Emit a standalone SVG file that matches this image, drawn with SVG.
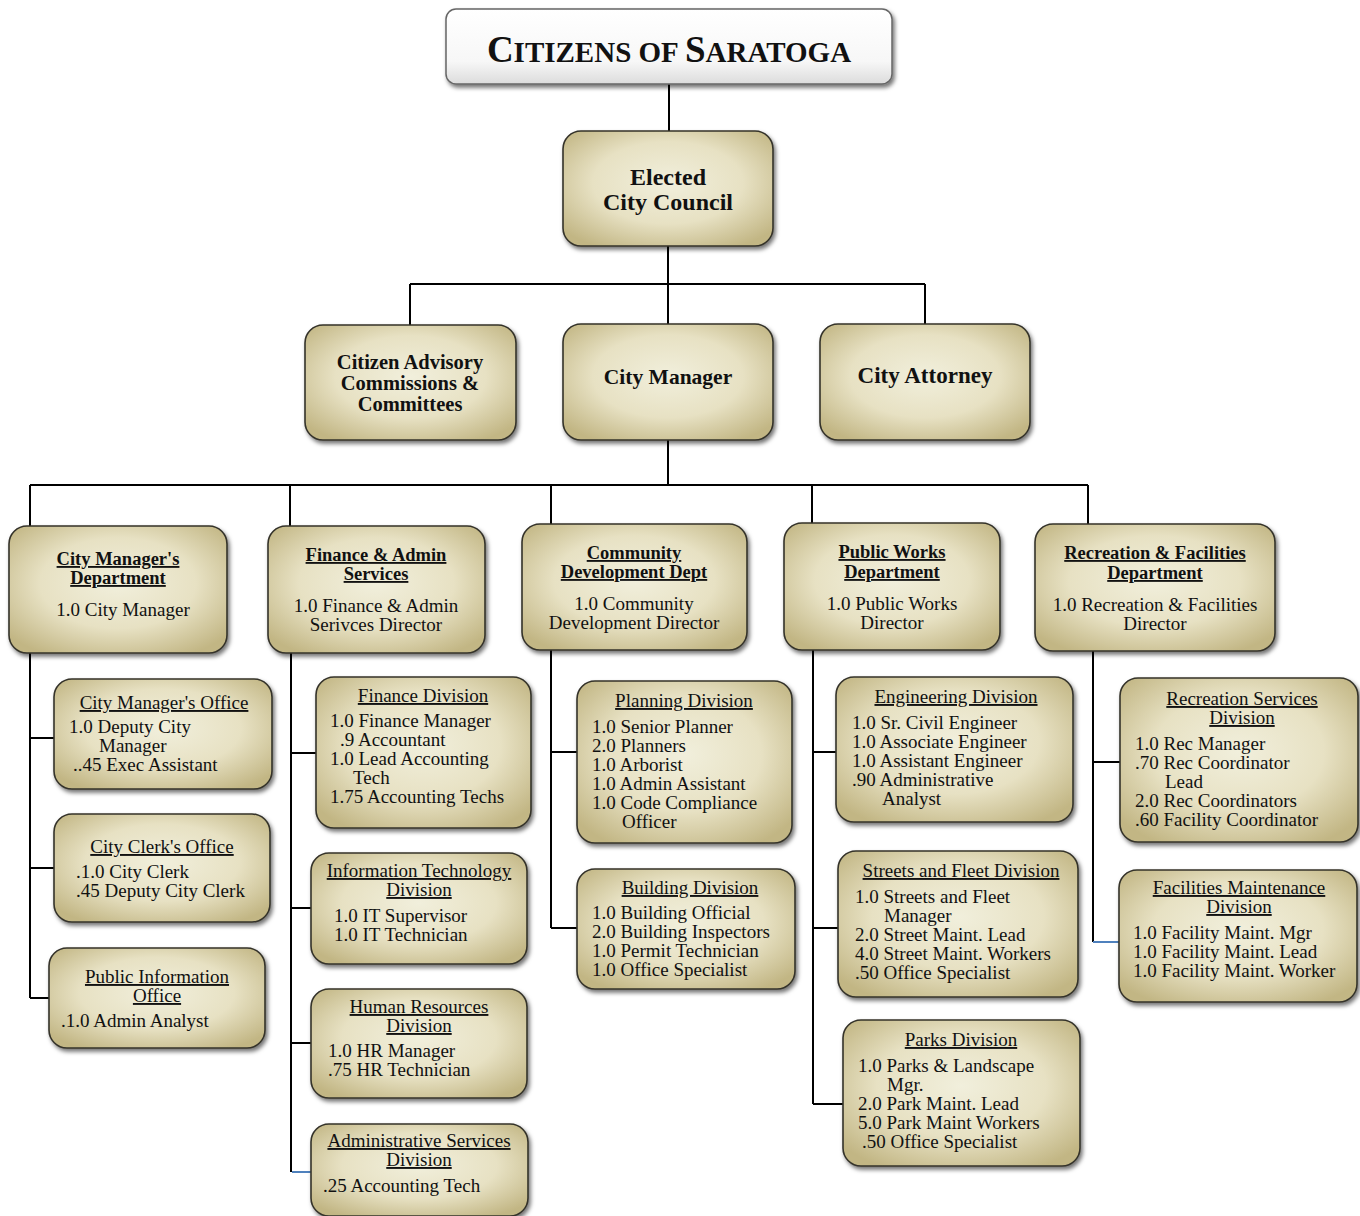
<svg xmlns="http://www.w3.org/2000/svg" width="1360" height="1216" viewBox="0 0 1360 1216">
<defs>
<radialGradient id="g" cx="50%" cy="45%" r="65%">
<stop offset="0%" stop-color="#f1efdc"/>
<stop offset="55%" stop-color="#e7e1c3"/>
<stop offset="100%" stop-color="#c2b684"/>
</radialGradient>
<linearGradient id="gw" x1="0" y1="0" x2="0" y2="1">
<stop offset="0%" stop-color="#ffffff"/>
<stop offset="70%" stop-color="#f7f7f7"/>
<stop offset="100%" stop-color="#dcdcdc"/>
</linearGradient>
<filter id="sh" x="-10%" y="-10%" width="125%" height="130%">
<feDropShadow dx="2" dy="3" stdDeviation="2" flood-color="#000" flood-opacity="0.55"/>
</filter>
<style>
.box{fill:url(#g);stroke:#34332a;stroke-width:1.6;filter:url(#sh)}
.tbox{fill:url(#gw);stroke:#666;stroke-width:1.5;filter:url(#sh)}
text{font-family:"Liberation Serif","Times New Roman",serif;fill:#111;font-size:19px}
.c{text-anchor:middle}
.h{font-weight:bold;text-decoration:underline;font-size:18.5px}
.u{text-decoration:underline}
.b{font-weight:bold}
.b24{font-weight:bold;font-size:24px}
.b21{font-weight:bold;font-size:20.5px}
.b22{font-weight:bold;font-size:21.5px}
.b23{font-weight:bold;font-size:23px}
.ln{stroke:#000;stroke-width:2;fill:none}
.bl{stroke:#4f81bd;stroke-width:2;fill:none}
</style>
</defs>

<g id="connectors">
<path class="ln" d="M669 84V131M668 246V284M410 284H925M410 284V325M925 284V324M668 284V324M668 440V485M30 485H1088M30 485V526M290 485V526M551 485V524M812 485V523M1088 485V524"/>
<path class="ln" d="M30 653V998M30 738H54M30 868H54M30 998H49"/>
<path class="ln" d="M291 653V1172M291 753H316M291 908H311M291 1043H311"/>
<path class="bl" d="M292 1172H311"/>
<path class="ln" d="M551 650V928M551 752H577M551 928H577"/>
<path class="ln" d="M813 650V1104M813 752H836M813 928H838M813 1104H843"/>
<path class="ln" d="M1093 651V942M1093 762H1120"/>
<path class="bl" d="M1093 942H1119"/>
</g>

<g id="citizens">
<rect class="tbox" x="446" y="9" width="446" height="75" rx="10"/>
<text class="c b" x="669" y="62"><tspan style="font-size:37px">C</tspan><tspan style="font-size:29px">ITIZENS OF </tspan><tspan style="font-size:37px">S</tspan><tspan style="font-size:29px">ARATOGA</tspan></text>
</g>

<g id="council">
<rect class="box" x="563" y="131" width="210" height="115" rx="18"/>
<text class="c b24" x="668" y="185">Elected</text>
<text class="c b24" x="668" y="210">City Council</text>
</g>

<g id="advisory">
<rect class="box" x="305" y="325" width="211" height="115" rx="18"/>
<text class="c b21" x="410" y="369">Citizen Advisory</text>
<text class="c b21" x="410" y="390">Commissions &amp;</text>
<text class="c b21" x="410" y="411">Committees</text>
</g>

<g id="citymanager">
<rect class="box" x="563" y="324" width="210" height="116" rx="18"/>
<text class="c b22" x="668" y="384">City Manager</text>
</g>

<g id="attorney">
<rect class="box" x="820" y="324" width="210" height="116" rx="18"/>
<text class="c b23" x="925" y="383">City Attorney</text>
</g>

<g id="dept-cm">
<rect class="box" x="9" y="526" width="218" height="127" rx="18"/>
<text class="c h" x="118" y="565">City Manager's</text>
<text class="c h" x="118" y="584">Department</text>
<text class="c" x="123" y="616">1.0 City Manager</text>
</g>

<g id="dept-finance">
<rect class="box" x="268" y="526" width="217" height="127" rx="18"/>
<text class="c h" x="376" y="561">Finance &amp; Admin</text>
<text class="c h" x="376" y="580">Services</text>
<text class="c" x="376" y="612">1.0 Finance &amp; Admin</text>
<text class="c" x="376" y="631">Serivces Director</text>
</g>

<g id="dept-cd">
<rect class="box" x="522" y="524" width="225" height="126" rx="18"/>
<text class="c h" x="634" y="559">Community</text>
<text class="c h" x="634" y="578">Development Dept</text>
<text class="c" x="634" y="610">1.0 Community</text>
<text class="c" x="634" y="629">Development Director</text>
</g>

<g id="dept-pw">
<rect class="box" x="784" y="523" width="216" height="127" rx="18"/>
<text class="c h" x="892" y="558">Public Works</text>
<text class="c h" x="892" y="578">Department</text>
<text class="c" x="892" y="610">1.0 Public Works</text>
<text class="c" x="892" y="629">Director</text>
</g>

<g id="dept-rec">
<rect class="box" x="1035" y="524" width="240" height="127" rx="18"/>
<text class="c h" x="1155" y="559">Recreation &amp; Facilities</text>
<text class="c h" x="1155" y="579">Department</text>
<text class="c" x="1155" y="611">1.0 Recreation &amp; Facilities</text>
<text class="c" x="1155" y="630">Director</text>
</g>

<g id="cm-office">
<rect class="box" x="54" y="679" width="218" height="110" rx="18"/>
<text class="c u" x="164" y="709">City Manager's Office</text>
<text x="69" y="733">1.0 Deputy City</text>
<text x="99" y="752">Manager</text>
<text x="73" y="771">..45 Exec Assistant</text>
</g>

<g id="clerk">
<rect class="box" x="54" y="814" width="216" height="108" rx="18"/>
<text class="c u" x="162" y="853">City Clerk's Office</text>
<text x="76" y="878">.1.0 City Clerk</text>
<text x="76" y="897">.45 Deputy City Clerk</text>
</g>

<g id="pio">
<rect class="box" x="49" y="948" width="216" height="100" rx="18"/>
<text class="c u" x="157" y="983">Public Information</text>
<text class="c u" x="157" y="1002">Office</text>
<text x="61" y="1027">.1.0 Admin Analyst</text>
</g>

<g id="finance-div">
<rect class="box" x="316" y="677" width="215" height="151" rx="18"/>
<text class="c u" x="423" y="702">Finance Division</text>
<text x="330" y="727">1.0 Finance Manager</text>
<text x="340" y="746">.9 Accountant</text>
<text x="330" y="765">1.0 Lead Accounting</text>
<text x="353" y="784">Tech</text>
<text x="330" y="803">1.75 Accounting Techs</text>
</g>

<g id="it-div">
<rect class="box" x="311" y="853" width="216" height="111" rx="18"/>
<text class="c u" x="419" y="877">Information Technology</text>
<text class="c u" x="419" y="896">Division</text>
<text x="334" y="922">1.0 IT Supervisor</text>
<text x="334" y="941">1.0 IT Technician</text>
</g>

<g id="hr-div">
<rect class="box" x="311" y="989" width="216" height="109" rx="18"/>
<text class="c u" x="419" y="1013">Human Resources</text>
<text class="c u" x="419" y="1032">Division</text>
<text x="328" y="1057">1.0 HR Manager</text>
<text x="328" y="1076">.75 HR Technician</text>
</g>

<g id="admin-div">
<rect class="box" x="311" y="1124" width="217" height="92" rx="18"/>
<text class="c u" x="419" y="1147">Administrative Services</text>
<text class="c u" x="419" y="1166">Division</text>
<text x="323" y="1192">.25 Accounting Tech</text>
</g>

<g id="planning-div">
<rect class="box" x="577" y="681" width="215" height="162" rx="18"/>
<text class="c u" x="684" y="707">Planning Division</text>
<text x="592" y="733">1.0 Senior Planner</text>
<text x="592" y="752">2.0 Planners</text>
<text x="592" y="771">1.0 Arborist</text>
<text x="592" y="790">1.0 Admin Assistant</text>
<text x="592" y="809">1.0 Code Compliance</text>
<text x="622" y="828">Officer</text>
</g>

<g id="building-div">
<rect class="box" x="577" y="869" width="218" height="120" rx="18"/>
<text class="c u" x="690" y="894">Building Division</text>
<text x="592" y="919">1.0 Building Official</text>
<text x="592" y="938">2.0 Building Inspectors</text>
<text x="592" y="957">1.0 Permit Technician</text>
<text x="592" y="976">1.0 Office Specialist</text>
</g>

<g id="eng-div">
<rect class="box" x="836" y="677" width="237" height="145" rx="18"/>
<text class="c u" x="956" y="703">Engineering Division</text>
<text x="852" y="729">1.0 Sr. Civil Engineer</text>
<text x="852" y="748">1.0 Associate Engineer</text>
<text x="852" y="767">1.0 Assistant Engineer</text>
<text x="852" y="786">.90 Administrative</text>
<text x="882" y="805">Analyst</text>
</g>

<g id="streets-div">
<rect class="box" x="838" y="851" width="240" height="146" rx="18"/>
<text class="c u" x="961" y="877">Streets and Fleet Division</text>
<text x="855" y="903">1.0 Streets and Fleet</text>
<text x="884" y="922">Manager</text>
<text x="855" y="941">2.0 Street Maint. Lead</text>
<text x="855" y="960">4.0 Street Maint. Workers</text>
<text x="855" y="979">.50 Office Specialist</text>
</g>

<g id="parks-div">
<rect class="box" x="843" y="1020" width="237" height="146" rx="18"/>
<text class="c u" x="961" y="1046">Parks Division</text>
<text x="858" y="1072">1.0 Parks &amp; Landscape</text>
<text x="887" y="1091">Mgr.</text>
<text x="858" y="1110">2.0 Park Maint. Lead</text>
<text x="858" y="1129">5.0 Park Maint Workers</text>
<text x="862" y="1148">.50 Office Specialist</text>
</g>

<g id="recserv-div">
<rect class="box" x="1120" y="678" width="238" height="164" rx="18"/>
<text class="c u" x="1242" y="705">Recreation Services</text>
<text class="c u" x="1242" y="724">Division</text>
<text x="1135" y="750">1.0 Rec Manager</text>
<text x="1135" y="769">.70 Rec Coordinator</text>
<text x="1165" y="788">Lead</text>
<text x="1135" y="807">2.0 Rec Coordinators</text>
<text x="1135" y="826">.60 Facility Coordinator</text>
</g>

<g id="facmaint-div">
<rect class="box" x="1119" y="870" width="238" height="132" rx="18"/>
<text class="c u" x="1239" y="894">Facilities Maintenance</text>
<text class="c u" x="1239" y="913">Division</text>
<text x="1133" y="939">1.0 Facility Maint. Mgr</text>
<text x="1133" y="958">1.0 Facility Maint. Lead</text>
<text x="1133" y="977">1.0 Facility Maint. Worker</text>
</g>
</svg>
